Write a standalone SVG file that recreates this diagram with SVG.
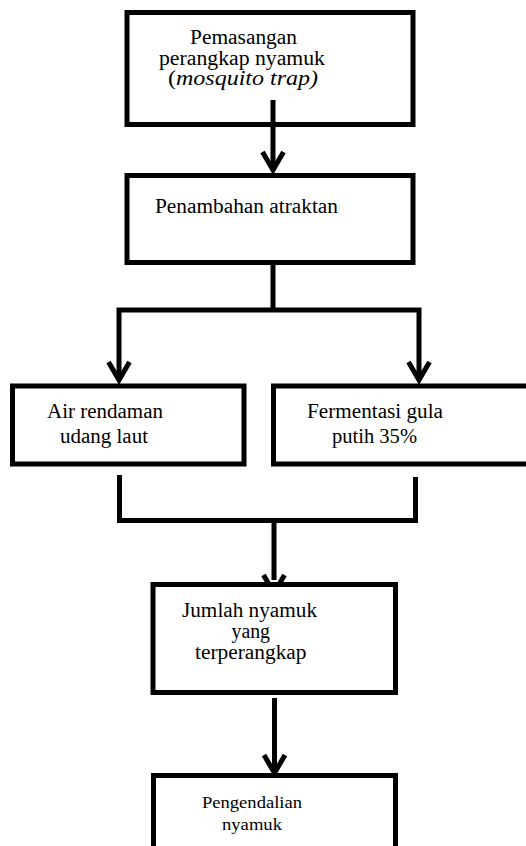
<svg xmlns="http://www.w3.org/2000/svg" width="526" height="846" viewBox="0 0 526 846">
<style>
.box{fill:#fff;stroke:#000;stroke-width:5}
.ln{fill:none;stroke:#000;stroke-width:5}
.ah{fill:none;stroke:#000;stroke-width:5;stroke-linejoin:miter;stroke-miterlimit:10}
text{font-family:'Liberation Serif','Times New Roman',Times,serif;font-size:20px;fill:#000}
.s{font-size:17px}
</style>
<defs>
<clipPath id="clip5"><rect x="0" y="0" width="526" height="582"/></clipPath>
</defs>
<rect width="526" height="846" fill="#fff"/>
<g id="n1">
<rect class="box" x="127" y="12.5" width="286" height="112"/>
<text x="190" y="44" textLength="107" lengthAdjust="spacingAndGlyphs">Pemasangan</text>
<text x="159" y="64.5" textLength="166" lengthAdjust="spacingAndGlyphs">perangkap nyamuk</text>
<text x="168" y="85" textLength="150" lengthAdjust="spacingAndGlyphs">(<tspan font-style="italic">mosquito trap)</tspan></text>
</g>
<g id="n2">
<rect class="box" x="127" y="175.5" width="286" height="87"/>
<text x="155" y="213" textLength="183" lengthAdjust="spacingAndGlyphs">Penambahan atraktan</text>
</g>
<g id="n3">
<rect class="box" x="12.5" y="386" width="231.5" height="78"/>
<text x="47" y="417.5" textLength="116" lengthAdjust="spacingAndGlyphs">Air rendaman</text>
<text x="60" y="442.5" textLength="88" lengthAdjust="spacingAndGlyphs">udang laut</text>
</g>
<g id="n4">
<rect class="box" x="273.5" y="386" width="262" height="78"/>
<text x="307" y="417.5" textLength="136" lengthAdjust="spacingAndGlyphs">Fermentasi gula</text>
<text x="332" y="442.5" textLength="85" lengthAdjust="spacingAndGlyphs">putih 35%</text>
</g>
<g id="n5">
<rect class="box" x="153" y="584.5" width="242.5" height="108"/>
<text x="182" y="617" textLength="135" lengthAdjust="spacingAndGlyphs">Jumlah nyamuk</text>
<text x="231.5" y="638" textLength="38.5" lengthAdjust="spacingAndGlyphs">yang</text>
<text x="195" y="659" textLength="111.5" lengthAdjust="spacingAndGlyphs">terperangkap</text>
</g>
<g id="n6">
<rect class="box" x="153.5" y="775.5" width="242" height="120"/>
<text class="s" x="202" y="808" textLength="100" lengthAdjust="spacingAndGlyphs">Pengendalian</text>
<text class="s" x="222" y="830" textLength="60" lengthAdjust="spacingAndGlyphs">nyamuk</text>
</g>
<g id="connectors">
<path class="ln" d="M273,100 V170"/>
<path class="ah" d="M262.5,152 L273,170 L283.5,152"/>
<path class="ln" d="M273,265 V310 M119,380 V310 H419 V380"/>
<path class="ah" d="M108.5,362 L119,380 L129.5,362"/>
<path class="ah" d="M408.5,362 L419,380 L429.5,362"/>
<path class="ln" d="M119.5,475 V520.5 H415.5 V477 M274,520.5 V580"/>
<path class="ah" clip-path="url(#clip5)" d="M263.5,575 L274,593 L284.5,575"/>
<path class="ln" d="M274.5,698 V772"/>
<path class="ah" d="M264,755 L274.5,773 L285,755"/>
</g>
</svg>
